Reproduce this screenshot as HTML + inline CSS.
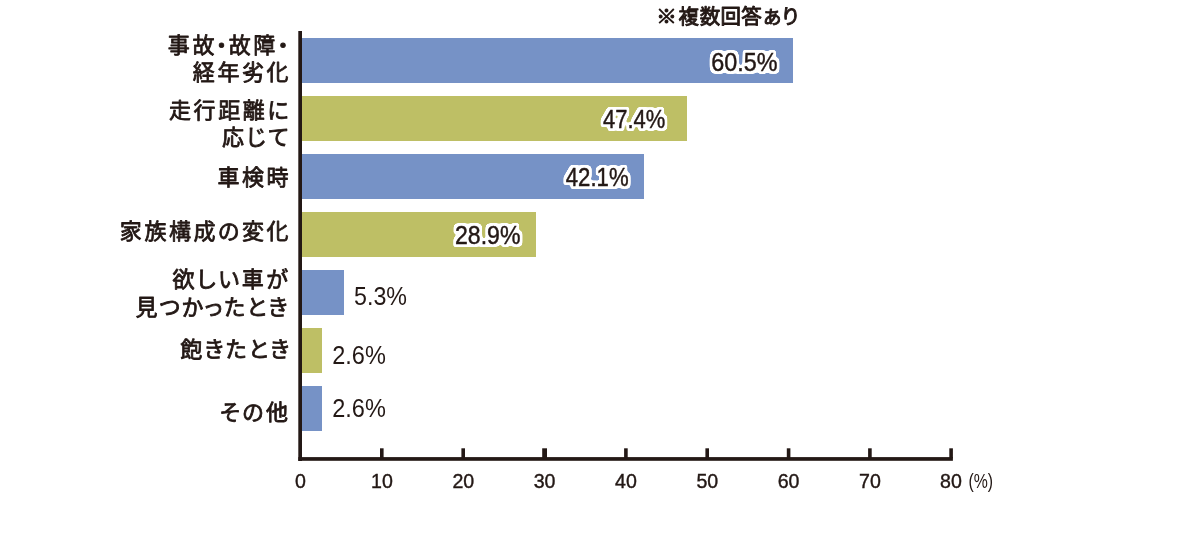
<!DOCTYPE html>
<html lang="ja">
<head>
<meta charset="utf-8">
<title>買い替えのタイミング</title>
<style>
html,body{margin:0;padding:0;background:#fff;}
body{width:1200px;height:535px;overflow:hidden;}
svg{display:block;}
.lbl{font-feature-settings:"palt";font-family:"Liberation Sans","Noto Sans CJK JP",sans-serif;font-weight:400;font-size:22px;letter-spacing:2.6px;fill:#231815;stroke:#231815;stroke-width:0.8px;stroke-linejoin:round;text-anchor:end;}
.val{font-family:"Liberation Sans",sans-serif;font-size:25px;fill:#231815;}
.valo{font-family:"Liberation Sans",sans-serif;font-size:25px;fill:#231815;stroke:#231815;stroke-width:0.45px;stroke-linejoin:round;filter:url(#halo);}
.ax{font-family:"Liberation Sans",sans-serif;font-size:19.6px;fill:#231815;stroke:#231815;stroke-width:0.4px;text-anchor:middle;}
.note{font-family:"Liberation Sans","Noto Sans CJK JP",sans-serif;font-weight:400;font-size:20.5px;fill:#231815;stroke:#231815;stroke-width:0.95px;stroke-linejoin:round;}
</style>
</head>
<body>
<svg width="1200" height="535" viewBox="0 0 1200 535">
<defs>
<filter id="halo" x="-15%" y="-30%" width="130%" height="160%" color-interpolation-filters="sRGB">
<feMorphology in="SourceAlpha" operator="dilate" radius="3" result="d"/>
<feGaussianBlur in="d" stdDeviation="0.9" result="b"/>
<feComponentTransfer in="b" result="t"><feFuncA type="linear" slope="6" intercept="-3.1"/></feComponentTransfer>
<feFlood flood-color="#fff" result="f"/>
<feComposite in="f" in2="t" operator="in" result="w"/>
<feMerge><feMergeNode in="w"/><feMergeNode in="SourceGraphic"/></feMerge>
</filter>
</defs>
<rect width="1200" height="535" fill="#fff"/>
<!-- bars -->
<g>
<rect x="300" y="38" width="493" height="45" fill="#7692c6"/>
<rect x="300" y="96" width="387" height="45" fill="#bebf65"/>
<rect x="300" y="154" width="344" height="45" fill="#7692c6"/>
<rect x="300" y="212" width="236" height="45" fill="#bebf65"/>
<rect x="300" y="270" width="44" height="45" fill="#7692c6"/>
<rect x="300" y="328" width="22" height="45" fill="#bebf65"/>
<rect x="300" y="386" width="22" height="45" fill="#7692c6"/>
</g>
<!-- axes -->
<g fill="#231815">
<rect x="298.3" y="31" width="3.7" height="430"/>
<rect x="298.3" y="457.1" width="654.6" height="3.7"/>
<rect x="380.0" y="448.3" width="3.6" height="10"/>
<rect x="461.4" y="448.3" width="3.6" height="10"/>
<rect x="542.2" y="448.3" width="4.8" height="10"/>
<rect x="624.1" y="448.3" width="3.6" height="10"/>
<rect x="705.4" y="448.3" width="3.6" height="10"/>
<rect x="786.8" y="448.3" width="3.6" height="10"/>
<rect x="868.1" y="448.3" width="3.6" height="10"/>
<rect x="949.3" y="448.3" width="3.6" height="10"/>
</g>
<!-- axis numbers -->
<g class="ax" transform="translate(0,0.4)">
<text x="300.5" y="487.6">0</text>
<text x="382" y="487.6">10</text>
<text x="463.3" y="487.6">20</text>
<text x="544.6" y="487.6">30</text>
<text x="626" y="487.6">40</text>
<text x="707.3" y="487.6">50</text>
<text x="788.6" y="487.6">60</text>
<text x="870" y="487.6">70</text>
<text x="951" y="487.6">80</text>
<text x="980.7" y="487.3" textLength="24.6" lengthAdjust="spacingAndGlyphs" style="stroke:none;font-size:20px">(%)</text>
</g>
<!-- category labels -->
<g class="lbl" transform="translate(3.2,-0.8)">
<text x="288" y="54">事故<tspan dx="-1">・</tspan><tspan dx="-1">故</tspan>障<tspan dx="-0.3">・</tspan></text>
<text x="288" y="81">経年劣化</text>
<text x="288" y="119">走行距離に</text>
<text x="288" y="146">応じて</text>
<text x="288" y="186">車検時</text>
<text x="288" y="240">家族構成の変化</text>
<text x="287.2" y="288">欲しい車が</text>
<text x="286" y="316.3" style="letter-spacing:1.8px">見つかったとき</text>
<text x="288" y="358.3" style="letter-spacing:2px">飽きたとき</text>
<text x="287.5" y="420.5">その他</text>
</g>
<!-- values -->
<g>
<text class="valo" x="711.3" y="71.2" textLength="66.2" lengthAdjust="spacingAndGlyphs">60.5%</text>
<text class="valo" x="603" y="127.6" textLength="62.3" lengthAdjust="spacingAndGlyphs">47.4%</text>
<text class="valo" x="565.8" y="185.8" textLength="62.8" lengthAdjust="spacingAndGlyphs">42.1%</text>
<text class="valo" x="455" y="243.8" textLength="65.4" lengthAdjust="spacingAndGlyphs">28.9%</text>
<text class="val" x="354" y="305" textLength="53" lengthAdjust="spacingAndGlyphs">5.3%</text>
<text class="val" x="332.2" y="363.8" textLength="53.6" lengthAdjust="spacingAndGlyphs">2.6%</text>
<text class="val" x="332.2" y="417.2" textLength="53.6" lengthAdjust="spacingAndGlyphs">2.6%</text>
</g>
<text class="note" x="656.3 678.6 699.8 720.6 741.2" y="24">※複数回答<tspan style="font-size:18.5px" x="763" y="24">あ</tspan><tspan style="font-size:20px" x="780.4" y="24.3">り</tspan></text>
</svg>
</body>
</html>
